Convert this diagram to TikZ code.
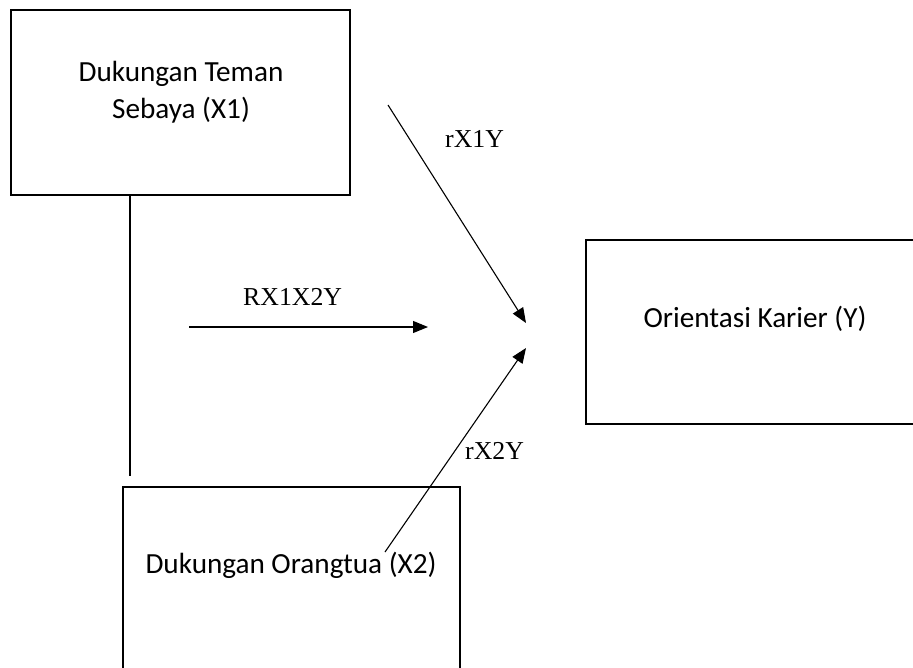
\documentclass[tikz,border=0pt]{standalone}
\usepackage{fontspec}
\setmainfont{Carlito}
\newfontfamily\relfont{Liberation Serif}
\usetikzlibrary{arrows.meta}
\begin{document}
\begin{tikzpicture}[x=1pt,y=-1pt,
  box/.style={draw, line width=2.8pt, inner sep=0pt},
  boxtext/.style={font=\fontsize{29.2}{35}\selectfont, anchor=base, inner sep=0pt},
  rel/.style={font=\relfont\fontsize{25.8}{30}\selectfont, anchor=base west, inner sep=0pt},
  link/.style={line width=1.1pt, -{Triangle[length=15pt,width=12pt]}},
  tie/.style={line width=1.1pt}]
\useasboundingbox (0,0) rectangle (913,667);
\clip (0,0) rectangle (913,667);

% variable boxes
\node[box, minimum width=339pt, minimum height=185pt] (x1) at (180.5,102.5) {};
\node[box, minimum width=337pt, minimum height=200pt] (x2) at (291.5,587) {};
\node[box, minimum width=340pt, minimum height=184pt] (y) at (756,332) {};

% box captions
\node[boxtext] (x1a) at (181,81) {Dukungan Teman};
\node[boxtext] (x1b) at (181,118) {Sebaya (X1)};
\node[boxtext] (x2t) at (291,573) {Dukungan Orangtua (X2)};
\node[boxtext] (yt) at (755,327) {Orientasi Karier (Y)};

% correlation labels
\node[rel] (l1) at (445,147) {rX1Y};
\node[rel] (l12) at (243,305) {RX1X2Y};
\node[rel] (l2) at (465,459) {rX2Y};

% arrow end points
\coordinate (a1s) at (388,105);
\coordinate (a1e) at (526,323);
\coordinate (a0s) at (189,327);
\coordinate (a0e) at (428,327);
\coordinate (a2s) at (385,552);
\coordinate (a2e) at (526,348);
\coordinate (vt) at (130,476);

\draw[link] (a1s) -- (a1e);
\draw[link] (a0s) -- (a0e);
\draw[link] (a2s) -- (a2e);
\draw[tie] (x1.south -| vt) -- (vt);
\end{tikzpicture}
\end{document}
